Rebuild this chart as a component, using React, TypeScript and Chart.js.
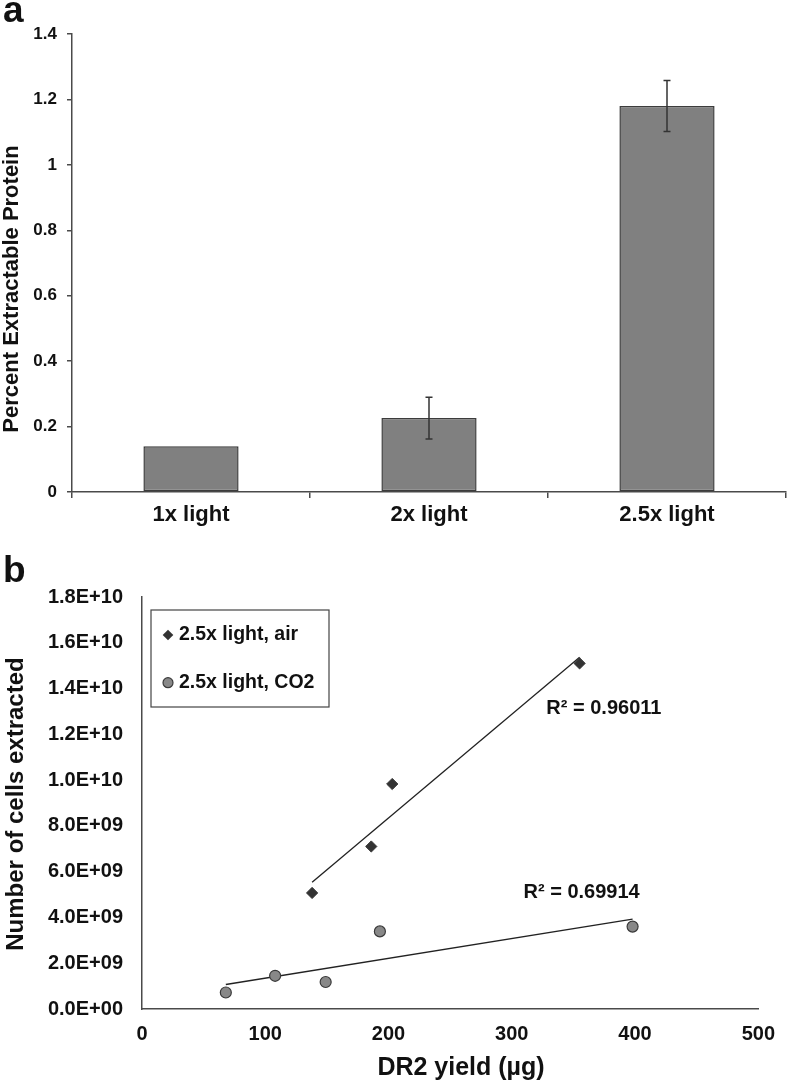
import React, { useEffect, useRef } from "react";
import { Chart, registerables } from "chart.js";

Chart.register(...registerables);

const FONT = "'Liberation Sans', Arial, Helvetica, sans-serif";
const TEXT = "#111111";
const AXIS = "#4a4a4a";

// ---------- Panel a data ----------
const barCategories = ["1x light", "2x light", "2.5x light"];
const barValues = [0.14, 0.226, 1.18];
const barErrors = [0, 0.064, 0.078];
const barYMin = 0;
const barYMax = 1.4;
const barYStep = 0.2;
const barYTitle = "Percent Extractable Protein";

// ---------- Panel b data ----------
const seriesNames = ["2.5x light, air", "2.5x light, CO2"];
const airX = [138, 186, 203, 355];
const airY = [5.07e9, 7.1e9, 9.83e9, 1.51e10];
const co2X = [68, 108, 149, 193, 398];
const co2Y = [0.72e9, 1.45e9, 1.18e9, 3.39e9, 3.6e9];
const rSquaredLabels = ["R\u00b2 = 0.96011", "R\u00b2 = 0.69914"];
const scatterXMin = 0;
const scatterXMax = 500;
const scatterXStep = 100;
const scatterYMin = 0;
const scatterYMax = 1.8e10;
const scatterYStep = 2e9;
const scatterXTitle = "DR2 yield (\u00b5g)";
const scatterYTitle = "Number of cells extracted";

function font(size: number) {
  return `bold ${size}px ${FONT}`;
}

function sci(v: number): string {
  const s = Number(v).toExponential(1);
  const [m, e] = s.split("e");
  const sign = e[0] === "-" ? "-" : "+";
  const digits = e.replace(/[+-]/, "").padStart(2, "0");
  return `${m}E${sign}${digits}`;
}

function plainTick(v: number): string {
  return String(Math.round(v * 10) / 10);
}

function linearFit(xs: number[], ys: number[]) {
  const n = xs.length;
  const mx = xs.reduce((a, b) => a + b, 0) / n;
  const my = ys.reduce((a, b) => a + b, 0) / n;
  let sxy = 0;
  let sxx = 0;
  for (let i = 0; i < n; i++) {
    sxy += (xs[i] - mx) * (ys[i] - my);
    sxx += (xs[i] - mx) * (xs[i] - mx);
  }
  const slope = sxy / sxx;
  const icpt = my - slope * mx;
  const x0 = Math.min(...xs);
  const x1 = Math.max(...xs);
  return [
    { x: x0, y: icpt + slope * x0 },
    { x: x1, y: icpt + slope * x1 },
  ];
}

function drawText(
  ctx: CanvasRenderingContext2D,
  text: string,
  x: number,
  y: number,
  size: number,
  align: CanvasTextAlign = "center",
  rotate = 0
) {
  ctx.save();
  ctx.translate(x, y);
  if (rotate) ctx.rotate(rotate);
  ctx.font = font(size);
  ctx.fillStyle = TEXT;
  ctx.textAlign = align;
  ctx.textBaseline = "middle";
  ctx.fillText(text, 0, 0);
  ctx.restore();
}

const errorBarPlugin = {
  id: "errorBars",
  afterDatasetsDraw(chart: any) {
    const meta = chart.getDatasetMeta(0);
    const y = chart.scales.y;
    const ctx = chart.ctx as CanvasRenderingContext2D;
    ctx.save();
    ctx.strokeStyle = "#333333";
    ctx.lineWidth = 1.5;
    meta.data.forEach((bar: any, i: number) => {
      const e = barErrors[i];
      if (!e) return;
      const x = bar.x;
      const top = y.getPixelForValue(barValues[i] + e);
      const bot = y.getPixelForValue(barValues[i] - e);
      ctx.beginPath();
      ctx.moveTo(x, top);
      ctx.lineTo(x, bot);
      ctx.moveTo(x - 3.5, top);
      ctx.lineTo(x + 3.5, top);
      ctx.moveTo(x - 3.5, bot);
      ctx.lineTo(x + 3.5, bot);
      ctx.stroke();
    });
    ctx.restore();
  },
};

const barTextPlugin = {
  id: "barText",
  afterDraw(chart: any) {
    const ctx = chart.ctx as CanvasRenderingContext2D;
    drawText(ctx, "a", 3, 12, 37, "left");
    drawText(ctx, barYTitle, 12, 289, 22, "center", -Math.PI / 2);
  },
};

const scatterExtrasPlugin = {
  id: "scatterExtras",
  afterDraw(chart: any) {
    const ctx = chart.ctx as CanvasRenderingContext2D;
    const xs = chart.scales.x;
    const ys = chart.scales.y;
    // panel letter
    drawText(ctx, "b", 3, 32, 37, "left");
    // axis titles
    drawText(ctx, scatterYTitle, 16.5, 264, 24, "center", -Math.PI / 2);
    drawText(ctx, scatterXTitle, 461, 528, 25, "center");
    // R squared labels (anchored in data units)
    const anchors = [
      { x: 328, y: 13.15e9 },
      { x: 309.5, y: 5.07e9 },
    ];
    rSquaredLabels.forEach((t, i) => {
      drawText(
        ctx,
        t,
        xs.getPixelForValue(anchors[i].x),
        ys.getPixelForValue(anchors[i].y),
        20,
        "left"
      );
    });
    // legend box
    ctx.save();
    ctx.strokeStyle = "#444444";
    ctx.lineWidth = 1.2;
    ctx.strokeRect(151, 70, 178, 97);
    ctx.restore();
    const rows = [95, 142.7];
    // diamond
    ctx.save();
    ctx.fillStyle = "#333333";
    ctx.beginPath();
    ctx.moveTo(168, rows[0] - 5.3);
    ctx.lineTo(173.3, rows[0]);
    ctx.lineTo(168, rows[0] + 5.3);
    ctx.lineTo(162.7, rows[0]);
    ctx.closePath();
    ctx.fill();
    // circle
    ctx.fillStyle = "#888888";
    ctx.strokeStyle = "#3a3a3a";
    ctx.lineWidth = 1.2;
    ctx.beginPath();
    ctx.arc(168, rows[1], 5, 0, Math.PI * 2);
    ctx.fill();
    ctx.stroke();
    ctx.restore();
    seriesNames.forEach((n, i) => drawText(ctx, n, 179, rows[i], 19.5, "left"));
  },
};

export default function App() {
  const barRef = useRef<HTMLCanvasElement | null>(null);
  const scatRef = useRef<HTMLCanvasElement | null>(null);

  useEffect(() => {
    const barChart = new Chart(barRef.current as HTMLCanvasElement, {
      type: "bar",
      data: {
        labels: barCategories,
        datasets: [
          {
            data: barValues,
            backgroundColor: "#808080",
            borderColor: "#3c3c3c",
            borderWidth: 1.5,
            borderSkipped: false,
            barPercentage: 0.4,
            categoryPercentage: 1,
          },
        ],
      },
      options: {
        responsive: false,
        animation: false,
        layout: { padding: { top: 34, right: 2, left: 0, bottom: 0 } },
        plugins: { legend: { display: false }, tooltip: { enabled: false } },
        scales: {
          x: {
            grid: {
              offset: true,
              drawOnChartArea: false,
              drawTicks: true,
              tickLength: 6,
              color: AXIS,
              lineWidth: 1.5,
            },
            border: { color: AXIS, width: 1.5 },
            ticks: { font: { family: FONT, size: 22, weight: "bold" }, color: TEXT, padding: 4 },
            afterFit: (s: any) => {
              s.height = 48;
            },
          },
          y: {
            min: barYMin,
            max: barYMax,
            ticks: {
              stepSize: barYStep,
              callback: (v: any) => plainTick(Number(v)),
              font: { family: FONT, size: 17, weight: "bold" },
              color: TEXT,
              padding: 10,
            },
            grid: {
              drawOnChartArea: false,
              drawTicks: true,
              tickLength: 5,
              color: AXIS,
              lineWidth: 1.5,
            },
            border: { color: AXIS, width: 1.5 },
            afterFit: (s: any) => {
              s.width = 72;
            },
          },
        },
      } as any,
      plugins: [errorBarPlugin, barTextPlugin],
    });

    const scatChart = new Chart(scatRef.current as HTMLCanvasElement, {
      type: "scatter",
      data: {
        datasets: [
          {
            label: seriesNames[0],
            data: airX.map((x, i) => ({ x, y: airY[i] })),
            pointStyle: "rectRot",
            pointRadius: 5.6,
            backgroundColor: "#333333",
            borderColor: "#333333",
            borderWidth: 1,
          },
          {
            label: seriesNames[1],
            data: co2X.map((x, i) => ({ x, y: co2Y[i] })),
            pointStyle: "circle",
            pointRadius: 5.5,
            backgroundColor: "#888888",
            borderColor: "#3a3a3a",
            borderWidth: 1.2,
          },
          {
            label: "air trend",
            data: linearFit(airX, airY),
            showLine: true,
            pointRadius: 0,
            borderColor: "#222222",
            borderWidth: 1.3,
          },
          {
            label: "co2 trend",
            data: linearFit(co2X, co2Y),
            showLine: true,
            pointRadius: 0,
            borderColor: "#222222",
            borderWidth: 1.3,
          },
        ],
      },
      options: {
        responsive: false,
        animation: false,
        layout: { padding: { top: 57, right: 24, left: 0, bottom: 0 } },
        plugins: { legend: { display: false }, tooltip: { enabled: false } },
        scales: {
          x: {
            type: "linear",
            min: scatterXMin,
            max: scatterXMax,
            ticks: {
              stepSize: scatterXStep,
              font: { family: FONT, size: 20, weight: "bold" },
              color: TEXT,
              padding: 13,
            },
            grid: { display: false, drawTicks: false },
            border: { color: AXIS, width: 1.5 },
            afterFit: (s: any) => {
              s.height = 76;
            },
          },
          y: {
            min: scatterYMin,
            max: scatterYMax,
            ticks: {
              stepSize: scatterYStep,
              callback: (v: any) => sci(Number(v)),
              font: { family: FONT, size: 20, weight: "bold" },
              color: TEXT,
              padding: 19,
            },
            grid: { display: false, drawTicks: false },
            border: { color: AXIS, width: 1.5 },
            afterFit: (s: any) => {
              s.width = 142;
            },
          },
        },
      } as any,
      plugins: [scatterExtrasPlugin],
    });

    return () => {
      barChart.destroy();
      scatChart.destroy();
    };
  }, []);

  return (
    <div style={{ position: "absolute", left: 0, top: 0, width: 788, height: 1085, background: "#fff" }}>
      <canvas ref={barRef} width={788} height={540} style={{ position: "absolute", left: 0, top: 0 }} />
      <canvas ref={scatRef} width={788} height={545} style={{ position: "absolute", left: 0, top: 540 }} />
    </div>
  );
}
